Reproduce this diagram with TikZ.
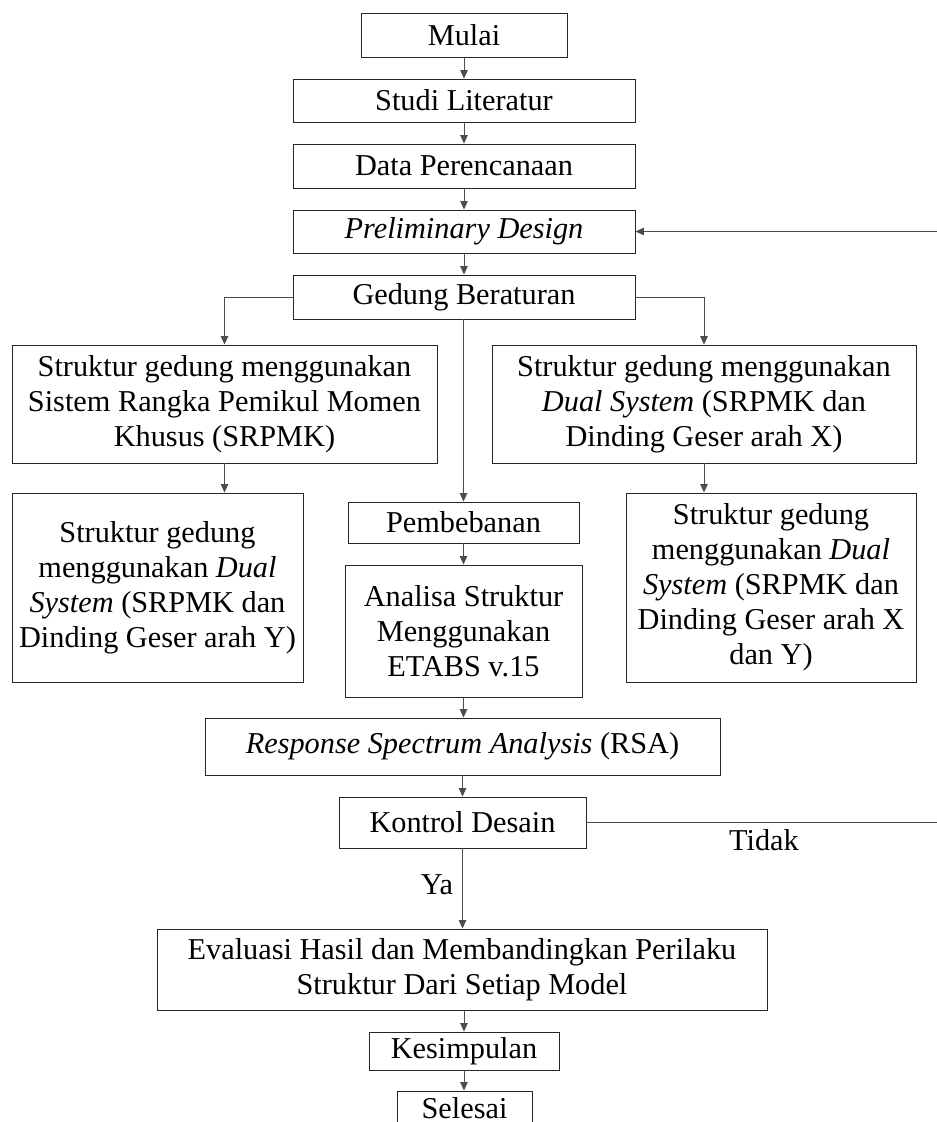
\documentclass[tikz,border=0pt]{standalone}
\usepackage{fontspec}
\setmainfont{Liberation Serif}
\usetikzlibrary{arrows.meta}
\tikzset{
  x=0.4pt, y=-0.4pt,
  box/.style={draw=black!85, line width=0.38pt, rectangle, inner sep=0pt, align=center,
    font=\fontsize{12.12pt}{14pt}\selectfont},
  lbl/.style={inner sep=0pt, font=\fontsize{12.12pt}{14pt}\selectfont},
  arr/.style={draw=black!70, line width=0.38pt, -{Triangle[length=3.4pt,width=3pt]}},
  ln/.style={draw=black!70, line width=0.38pt},
}
\begin{document}
\begin{tikzpicture}
\useasboundingbox (0,0) rectangle (937,1122);
\node[box, minimum width=82.4pt, minimum height=17.6pt] (mulai) at (464,35) {Mulai};
\node[box, minimum width=136.8pt, minimum height=17.2pt] (studi) at (464,100.5) {Studi Literatur};
\node[box, minimum width=136.8pt, minimum height=17.6pt] (data) at (464,166) {Data Perencanaan};
\node[box, minimum width=136.8pt, minimum height=17.2pt] (prelim) at (464,231.5) {\textit{Preliminary Design}};
\node[box, minimum width=136.8pt, minimum height=17.6pt] (gedung) at (464,297) {Gedung Beraturan};
\node[box, minimum width=170pt, minimum height=47.2pt] (srpmk) at (224.5,404) {Struktur gedung menggunakan\\Sistem Rangka Pemikul Momen\\Khusus (SRPMK)};
\node[box, minimum width=116.4pt, minimum height=75.6pt] (dualY) at (157.5,587.5) {Struktur gedung\\menggunakan \textit{Dual}\\\textit{System} (SRPMK dan\\Dinding Geser arah Y)};
\node[box, minimum width=169.6pt, minimum height=47.2pt] (dualX) at (704,404) {Struktur gedung menggunakan\\\textit{Dual System} (SRPMK dan\\Dinding Geser arah X)};
\node[box, minimum width=116pt, minimum height=75.6pt] (dualXY) at (771,587.5) {Struktur gedung\\menggunakan \textit{Dual}\\\textit{System} (SRPMK dan\\Dinding Geser arah X\\dan Y)};
\node[box, minimum width=92.4pt, minimum height=16.4pt] (beban) at (463.5,522.5) {Pembebanan};
\node[box, minimum width=94.8pt, minimum height=52.8pt] (analisa) at (463.5,631) {Analisa Struktur\\Menggunakan\\ETABS v.15};
\node[box, minimum width=206pt, minimum height=22.8pt] (rsa) at (462.5,746.5) {\textit{Response Spectrum Analysis} (RSA)};
\node[box, minimum width=98.8pt, minimum height=20.4pt] (kontrol) at (462.5,822.5) {Kontrol Desain};
\node[box, minimum width=244pt, minimum height=32.4pt] (eval) at (462,969.5) {Evaluasi Hasil dan Membandingkan Perilaku\\Struktur Dari Setiap Model};
\node[box, minimum width=76pt, minimum height=15.2pt] (kesim) at (464,1051) {Kesimpulan};
\node[box, minimum width=54pt, minimum height=13.6pt] (selesai) at (464.5,1108) {Selesai};
\node[lbl] (tidak) at (764,840) {Tidak};
\node[lbl] (ya) at (437,885) {Ya};
\coordinate (fbA) at (937,822.5);
\coordinate (fbB) at (937,231.5);
\draw[arr] (mulai.south) -- (mulai.south |- studi.north);
\draw[arr] (studi.south) -- (studi.south |- data.north);
\draw[arr] (data.south) -- (data.south |- prelim.north);
\draw[arr] (prelim.south) -- (prelim.south |- gedung.north);
\draw[arr] (gedung.west) -| (srpmk.north);
\draw[arr] (gedung.east) -| (dualX.north);
\draw[arr] (beban.north |- gedung.south) -- (beban.north);
\draw[arr] (srpmk.south) -- (srpmk.south |- dualY.north);
\draw[arr] (dualX.south) -- (dualX.south |- dualXY.north);
\draw[arr] (beban.south) -- (beban.south |- analisa.north);
\draw[arr] (analisa.south) -- (analisa.south |- rsa.north);
\draw[arr] (rsa.south) -- (rsa.south |- kontrol.north);
\draw[arr] (kontrol.south) -- (kontrol.south |- eval.north);
\draw[arr] (eval.south -| kesim.north) -- (kesim.north);
\draw[arr] (kesim.south) -- (kesim.south |- selesai.north);
\draw[ln] (kontrol.east) -- (fbA);
\draw[arr] (fbB) -- (prelim.east);
\end{tikzpicture}
\end{document}
